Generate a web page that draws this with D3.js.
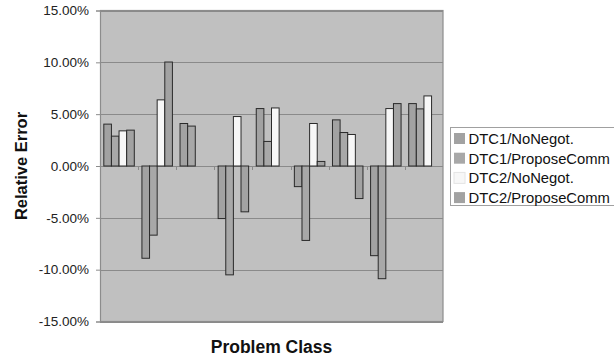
<!DOCTYPE html>
<html>
<head>
<meta charset="utf-8">
<script src="https://cdn.jsdelivr.net/npm/d3@7"></script>
<style>
  html, body { margin: 0; padding: 0; background: #fff; overflow: hidden; }
  svg { display: block; font-family: "Liberation Sans", Arial, sans-serif; }
</style>
</head>
<body>
<svg id="chart" width="614" height="358"></svg>
<script>
// ---- data ----
const categories = ["C1", "C2", "C3", "C4", "C5", "C6", "C7", "C8", "C9"];
const seriesNames = ["DTC1/NoNegot.", "DTC1/ProposeComm", "DTC2/NoNegot.", "DTC2/ProposeComm"];
const dtc1NoNegot = [4.04, -8.90, 4.10, -5.07, 5.54, -1.99, 4.45, -8.65, 6.02];
const dtc1Propose = [2.88, -6.67, 3.85, -10.50, 2.37, -7.18, 3.23, -10.87, 5.51];
const dtc2NoNegot = [3.39, 6.38, 0, 4.77, 5.60, 4.10, 3.04, 5.54, 6.76];
const dtc2Propose = [3.46, 10.03, 0, -4.42, 0, 0.44, -3.14, 6.02, 0];
const yTicks = [-15, -10, -5, 0, 5, 10, 15];
const yTickLabels = ["-15.00%", "-10.00%", "-5.00%", "0.00%", "5.00%", "10.00%", "15.00%"];
const seriesValues = [dtc1NoNegot, dtc1Propose, dtc2NoNegot, dtc2Propose];
const seriesColors = ["#a2a2a2", "#a8a8a8", "#f7f7f7", "#a2a2a2"];

// ---- layout ----
const svg = d3.select("#chart");
const plot = { left: 100, right: 443, top: 10.5, bottom: 321.5 };

const x0 = d3.scaleBand().domain(categories).range([plot.left, plot.right]).padding(0);
const bw = x0.bandwidth();
const x1 = d3.scaleBand().domain(seriesNames).range([bw / 10, bw * 9 / 10]).padding(0);
const y = d3.scaleLinear().domain([-15, 15]).range([plot.bottom, plot.top]);

// plot background
svg.append("rect")
  .attr("x", plot.left).attr("y", plot.top)
  .attr("width", plot.right - plot.left).attr("height", plot.bottom - plot.top)
  .attr("fill", "#c0c0c0");

// gridlines
svg.append("g").selectAll("line").data(yTicks).join("line")
  .attr("x1", plot.left).attr("x2", plot.right)
  .attr("y1", d => Math.round(y(d)) + 0.5).attr("y2", d => Math.round(y(d)) + 0.5)
  .attr("stroke", "#8a8a8a").attr("stroke-width", 1);

// plot border
svg.append("rect")
  .attr("x", plot.left + 0.5).attr("y", plot.top)
  .attr("width", plot.right - plot.left - 0.5).attr("height", plot.bottom - plot.top)
  .attr("fill", "none").attr("stroke", "#8c8c8c").attr("stroke-width", 1.2);

// y axis
const yAxis = d3.axisLeft(y).tickValues(yTicks).tickSize(4).tickPadding(7)
  .tickFormat((d, i) => yTickLabels[i]);
const gy = svg.append("g").attr("transform", `translate(${plot.left},0)`).call(yAxis);
gy.select(".domain").attr("stroke", "#8c8c8c");
gy.selectAll(".tick line").attr("stroke", "#8c8c8c");
gy.selectAll("text").attr("font-size", "13.5px").attr("fill", "#222")
  .attr("font-family", "'Liberation Sans', Arial, sans-serif");

// category ticks on the zero line
const catBounds = categories.slice(1).map(c => x0(c));
svg.append("g").selectAll("line").data(catBounds).join("line")
  .attr("x1", d => Math.round(d) + 0.5).attr("x2", d => Math.round(d) + 0.5)
  .attr("y1", y(0)).attr("y2", y(0) + 4)
  .attr("stroke", "#8a8a8a");

// bars
const rows = [];
categories.forEach((c, i) => {
  seriesNames.forEach((s, j) => {
    rows.push({ cat: c, series: s, value: seriesValues[j][i], color: seriesColors[j] });
  });
});
svg.append("g").selectAll("rect").data(rows.filter(d => d.value !== 0)).join("rect")
  .attr("x", d => x0(d.cat) + x1(d.series))
  .attr("width", x1.bandwidth())
  .attr("y", d => y(Math.max(0, d.value)))
  .attr("height", d => Math.abs(y(d.value) - y(0)))
  .attr("fill", d => d.color)
  .attr("stroke", "#2a2a2a").attr("stroke-width", 1);

// axis titles
svg.append("text")
  .attr("transform", `translate(27,${(plot.top + plot.bottom) / 2}) rotate(-90)`)
  .attr("text-anchor", "middle")
  .attr("font-size", "16.5px").attr("font-weight", "bold").attr("fill", "#111")
  .text("Relative Error");
svg.append("text")
  .attr("x", (plot.left + plot.right) / 2).attr("y", 353)
  .attr("text-anchor", "middle")
  .attr("font-size", "17.5px").attr("font-weight", "bold").attr("fill", "#111")
  .text("Problem Class");

// legend
const lg = svg.append("g");
lg.append("rect").attr("x", 450.5).attr("y", 127.5).attr("width", 180).attr("height", 78)
  .attr("fill", "#fff").attr("stroke", "#a0a0a0");
const li = lg.selectAll("g.item").data(seriesNames).join("g")
  .attr("transform", (d, i) => `translate(454,${132 + i * 19.7})`);
li.append("rect").attr("x", 0).attr("y", 1).attr("width", 11).attr("height", 11)
  .attr("fill", (d, i) => seriesColors[i])
  .attr("stroke", (d, i) => i === 2 ? "#e4e4e4" : "none");
li.append("text").attr("x", 14.5).attr("y", 12)
  .attr("font-size", "14.8px").attr("fill", "#111")
  .text(d => d);
</script>
</body>
</html>
